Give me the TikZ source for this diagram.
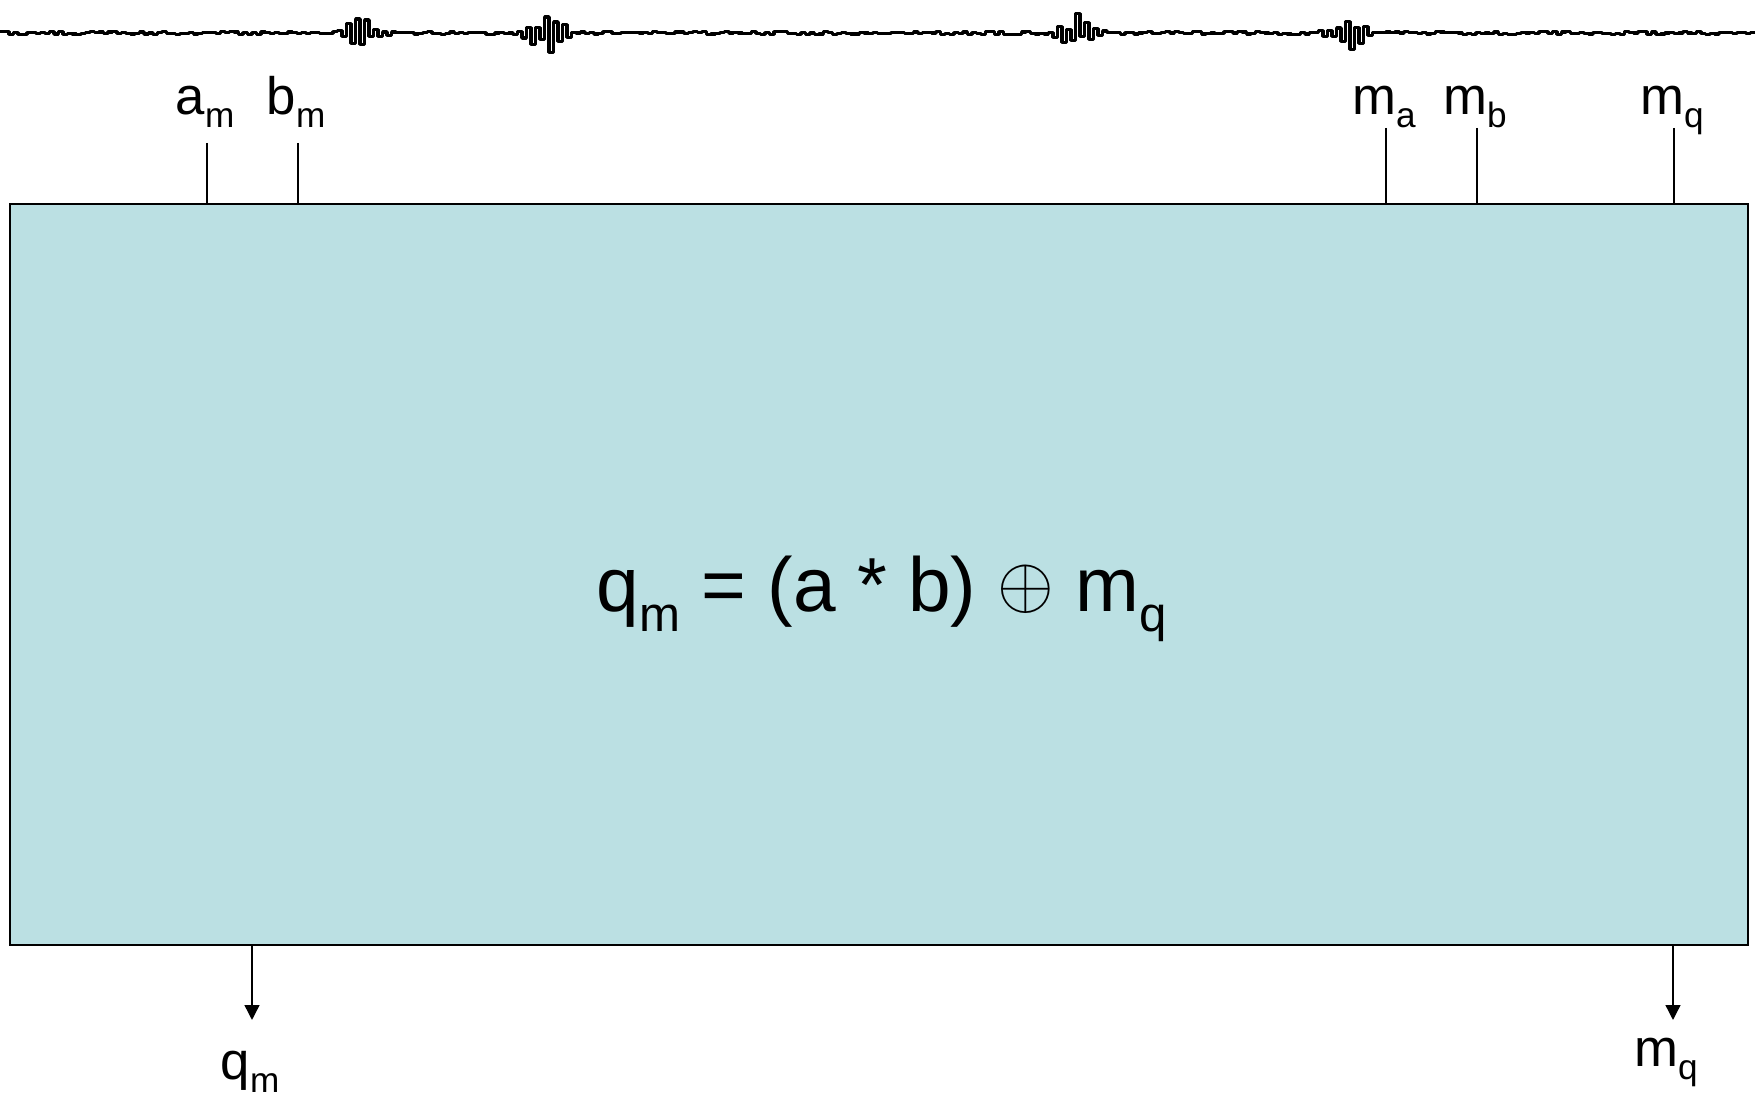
\documentclass[tikz,border=0pt]{standalone}
\usepackage{fontspec}
\setmainfont{Liberation Sans}
\usetikzlibrary{arrows.meta, positioning, calc}
\definecolor{ink}{HTML}{000000}
\definecolor{slab}{HTML}{BBE0E3}
\tikzset{
  font=\fontsize{15}{18}\selectfont,
  >={Triangle[length=4.2pt, width=4.2pt]},
  %
  block/.style={
    draw=ink, line width=0.4pt, fill=slab, inner sep=0pt, text=ink,
    minimum width=173.8mm, minimum height=74.1mm,
  },
  %
  pin/.style={draw=ink, line width=0.4pt},
  flow/.style={pin, ->},
  trace/.style={draw=ink, line width=0.9pt, line join=bevel},
  %
  lbl/.style={inner sep=0pt, text=ink, anchor=base},
  big/.style={font=\fontsize{21.8}{26}\selectfont},
}
\newcommand{\subsm}[1]{\raisebox{-3.7pt}{\fontsize{10}{12}\selectfont #1}}
\newcommand{\subbig}[1]{\raisebox{-5.5pt}{\fontsize{14}{17}\selectfont #1}}

\begin{document}
\begin{tikzpicture}[x=0.1mm, y=-0.1mm,
    declare function={env(\t,\c)=max(0,1-abs(\t-\c)/30);}]

  \useasboundingbox (0,0) rectangle (1755,1097);

  % ---- trace ------------------------------------------------------------
  \pgfmathsetseed{5}
  \draw[trace] plot[const plot, domain=0:1755, samples=391]
    (\x, {33 + 1.5*rand
          + 25*(0.6+0.4*rand)*sin(40*mod(\x,9)+60)
             *(env(\x,363)+env(\x,545)+env(\x,1077)+env(\x,1345))});

  % ---- unit -------------------------------------------------------------
  \node[block] (box) at (879,574.5) {};
  \node[big, inner sep=0pt, anchor=base] (eq) at (882,612)
    {q\subbig{m} = (a * b) \raisebox{1.4pt}{\fontsize{21}{25}\selectfont$\oplus$} m\subbig{q}};

  % ---- inputs -----------------------------------------------------------
  \foreach \n/\x/\a/\b/\y in {am/207/a/m/143, bm/298/b/m/143,
                              ma/1386/m/a/128, mb/1477/m/b/128,
                              mq/1674/m/q/128} {
    \node[lbl] (\n) at (\x-2,115) {\a\subsm{\b}};
    \coordinate (\n-top) at (\x,\y);
    \draw[pin] (\n-top) -- (\n-top |- box.north);
  }

  % ---- outputs ----------------------------------------------------------
  \coordinate (qm-tip) at (252,1020);
  \coordinate (mq-tip) at (1673,1020);
  \draw[flow] (qm-tip |- box.south) -- (qm-tip);
  \draw[flow] (mq-tip |- box.south) -- (mq-tip);
  \node[lbl] (qm-out) at (250,1080) {q\subsm{m}};
  \node[lbl] (mq-out) at (1666,1067) {m\subsm{q}};

\end{tikzpicture}
\end{document}
